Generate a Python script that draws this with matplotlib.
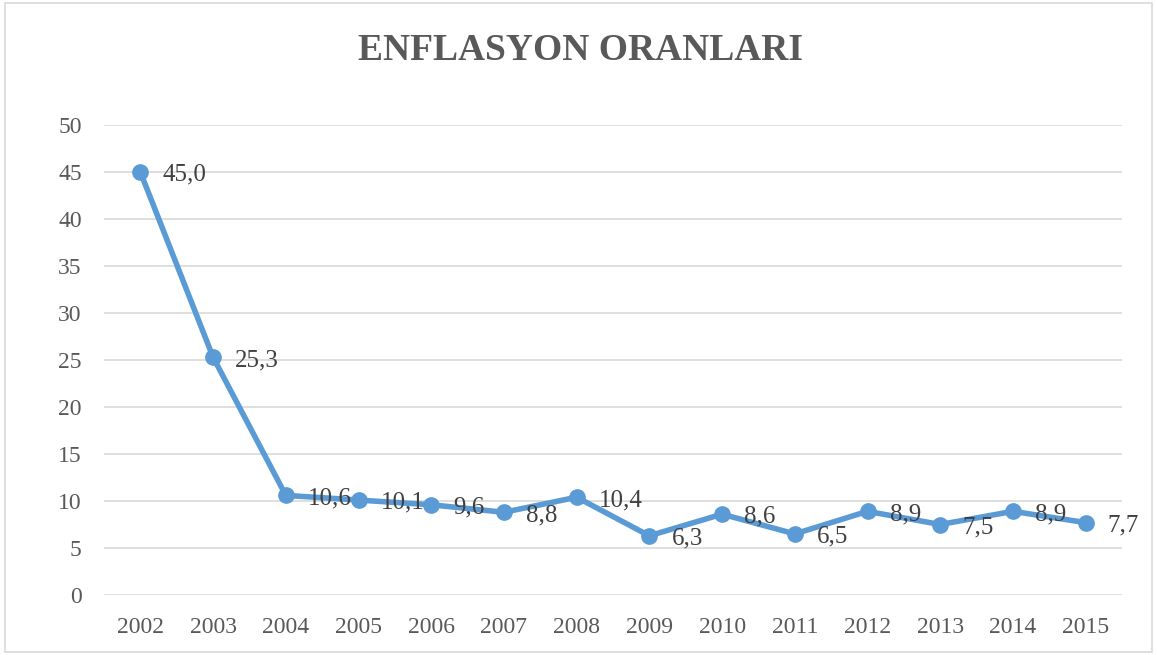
import matplotlib.pyplot as plt
from matplotlib.patches import Rectangle

years = ["2002", "2003", "2004", "2005", "2006", "2007", "2008",
         "2009", "2010", "2011", "2012", "2013", "2014", "2015"]
rates = [45.0, 25.3, 10.6, 10.1, 9.6, 8.8, 10.4, 6.3, 8.6, 6.5, 8.9, 7.5, 8.9, 7.7]
title = "ENFLASYON ORANLARI"

plt.rcParams['font.family'] = ['Liberation Serif', 'DejaVu Serif']

W, H = 1157, 655
fig = plt.figure(figsize=(W / 100, H / 100), dpi=100)
fig.patch.set_facecolor('white')
fig.patches.append(Rectangle((5 / W, 3 / H), (1152 - 5) / W, (652 - 3) / H,
                             transform=fig.transFigure, fill=False,
                             edgecolor='#D9D9D9', linewidth=1.2))

ax = fig.add_axes([104 / W, (H - 595) / H, (1122 - 104) / W, (595 - 125) / H])
x = list(range(len(years)))
ax.plot(x, rates, color='#5B9BD5', linewidth=4, marker='o', markersize=11,
        markerfacecolor='#5B9BD5', markeredgecolor='#5B9BD5', zorder=3)

for xi, v in zip(x, rates):
    ax.annotate(f"{v:.1f}".replace('.', ','), (xi, v), xytext=(16, -2),
                textcoords='offset points', ha='left', va='center',
                fontsize=18, color='#404040', zorder=4)

ax.set_xlim(-0.5, len(years) - 0.5)
ax.set_ylim(0, 50)
ax.set_yticks(range(0, 51, 5))
ax.set_xticks(x)
ax.set_xticklabels(years)
ax.tick_params(axis='both', length=0, labelsize=17, labelcolor='#595959')
ax.tick_params(axis='x', pad=16)
ax.tick_params(axis='y', pad=16)
ax.grid(axis='y', color='#D9D9D9', linewidth=1.2)
ax.set_axisbelow(True)
for s in ax.spines.values():
    s.set_visible(False)

fig.text(581 / W, 1 - 50 / H, title, ha='center', va='center',
         fontsize=27, fontweight='bold', color='#595959')

fig.savefig('out.png', dpi=100)
